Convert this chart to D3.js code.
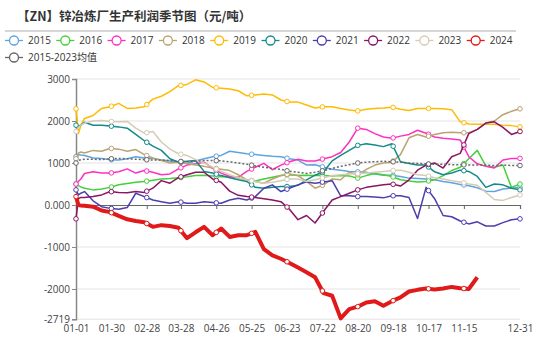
<!DOCTYPE html>
<html><head><meta charset="utf-8">
<script src="https://cdn.jsdelivr.net/npm/d3@7"></script>
<style>
html,body{margin:0;padding:0;background:#fff;}
svg text{font-family:"Open Sans","Noto Sans CJK SC",sans-serif;}
</style></head>
<body>
<svg id="chart" width="550" height="339"></svg>
<script>
// ---- data ----
const titleText = "【ZN】锌冶炼厂生产利润季节图（元/吨）";
const tickLabels = ["01-01","01-30","02-28","03-28","04-26","05-25","06-23","07-22","08-20","09-18","10-17","11-15","12-31"];
const tickDays = [0,29,58,86,115,144,173,202,231,260,289,318,364];
const yTicks = [3000,2000,1000,0,-1000,-2000,-2719];
const yTickLabels = ["3000","2000","1000","0.000","-1000","-2000","-2719"];
const days = [0,2,4,7,14,21,28,35,42,49,56,63,70,77,84,91,98,105,112,119,126,133,140,147,154,161,168,175,182,189,196,203,210,217,224,231,238,245,252,259,266,273,280,287,294,301,308,315,322,329,336,343,350,357,364];
const seriesNames = ["2015","2016","2017","2018","2019","2020","2021","2022","2023","2024","2015-2023均值"];
const seriesColors = ["#5fa3e0","#44d03a","#ff30c0","#bba371","#ffbb00","#138a8a","#4b3fae","#8a1466","#d6cbb5","#e01a1a","#666666"];

const v2015 = [1150,1200,1190,
 1180,1120,1110,1080,1070,1100,1150,1120,1110,1070,
 1050,1020,990,1050,1100,1150,1180,1280,1250,1220,
 1200,1180,1160,1150,1100,1070,950,960,900,850,
 830,800,790,780,740,710,710,680,640,630,
 620,600,560,530,490,460,410,330,320,380,
 400,420];
const v2016 = [500,460,430,
 400,360,380,420,480,510,540,560,590,620,
 630,650,670,700,710,690,670,680,640,600,
 570,620,660,700,720,700,710,700,700,690,
 700,690,640,700,750,720,680,600,570,550,
 560,600,700,820,900,1100,1300,930,900,950,
 420,500];
const v2017 = [500,560,620,
 750,790,760,760,790,860,760,820,780,720,
 740,860,950,980,1020,870,760,680,660,800,
 900,990,840,950,1030,1090,1050,1050,1100,1150,
 1250,1500,1830,1800,1700,1620,1590,1640,1680,1780,
 1710,1620,1590,1570,1550,1150,980,920,880,1070,
 1110,1110];
const v2018 = [1100,1240,1260,
 1240,1300,1280,1350,1330,1280,1320,1200,1120,1060,
 1000,1020,990,950,920,880,850,820,720,600,
 560,520,620,700,740,700,560,400,480,620,
 600,780,720,850,950,1000,1020,1200,1600,1680,
 1620,1680,1720,1730,1720,1720,1800,1950,2000,2150,
 2230,2290];
const v2019 = [2290,1700,1900,
 2060,2130,2300,2340,2420,2300,2310,2340,2520,2590,
 2700,2840,2870,2980,2930,2800,2780,2760,2720,2600,
 2620,2640,2620,2500,2450,2450,2380,2310,2340,2340,
 2300,2260,2240,2280,2300,2310,2330,2280,2250,2300,
 2300,2300,2290,2270,1980,1930,1920,1920,1920,1900,
 1890,1860];
const v2020 = [1900,1880,1900,
 1970,1900,1900,1880,1860,1830,1680,1530,1400,1300,
 1100,1020,1040,1060,800,760,700,650,600,560,
 420,400,420,440,440,470,600,710,790,1050,
 1180,1300,1420,1460,1430,1390,1460,1030,990,950,
 950,790,720,760,830,800,680,420,500,480,
 400,360];
const v2021 = [360,240,280,
 320,100,-40,-80,-100,-60,280,200,120,80,
 40,80,40,40,80,60,40,120,160,120,
 200,400,480,320,400,480,550,520,550,580,
 220,220,200,200,190,170,220,220,180,-320,
 420,150,-250,-280,-380,-450,-400,-500,-500,-420,
 -350,-330];
const v2022 = [-330,150,180,
 180,200,240,320,300,290,320,300,400,580,
 520,650,720,780,780,620,540,330,230,200,
 180,150,120,80,-100,-350,-250,-430,-150,120,
 200,280,360,420,450,480,500,450,600,830,
 950,1000,880,1150,1230,1700,1800,1950,1980,1850,
 1680,1750];
const v2023 = [1750,1850,1900,
 1950,2000,2010,1990,1980,1990,1830,1710,1750,1500,
 1330,1220,1180,1080,1000,900,800,720,650,600,
 560,520,540,580,620,620,560,600,650,700,
 720,740,750,760,780,800,820,830,780,720,
 700,650,620,580,550,500,470,300,130,110,
 180,240];
const v2024 = [200,0,-10,
 -20,-40,-130,-170,-260,-340,-380,-410,-520,-480,
 -500,-540,-790,-650,-520,-720,-560,-760,-720,-720,
 -640,-1050,-1200,-1280,-1380,-1490,-1600,-1720,-2100,-2160,
 -2700,-2480,-2420,-2320,-2290,-2400,-2290,-2200,-2060,-2020,
 -1990,-2010,-1990,-1950,-1980,-2000,-1720];
const vAvg = [1000,1060,1080,
 1090,1090,1080,1100,1110,1100,1090,1080,1070,1070,
 1060,1040,1030,1040,1060,1060,1050,1030,1000,970,
 930,900,870,850,800,780,750,780,820,870,
 920,960,1000,1020,1030,1040,1030,1020,1000,990,
 980,970,970,960,960,950,950,950,940,950,
 940,940];
const seriesValues = [v2015,v2016,v2017,v2018,v2019,v2020,v2021,v2022,v2023,v2024,vAvg];

// ---- layout ----
const svg = d3.select("#chart");
const x = d3.scaleLinear().domain([0,364]).range([76,520]);
const y = d3.scaleLinear().domain([-2719,3000]).range([319.2,79]);

// title
svg.append("text").attr("x",17).attr("y",21).text(titleText)
  .attr("font-size",12.5).attr("font-weight","bold").attr("fill","#333")
  .style("font-family","'Noto Sans CJK SC',sans-serif");
svg.append("line").attr("x1",5).attr("x2",516).attr("y1",31).attr("y2",31)
  .attr("stroke","#c8c8c8").attr("stroke-width",1.5);

// legend
const legend = svg.append("g");
seriesNames.forEach((name,i)=>{
  const row = i < 10 ? 0 : 1;
  const col = i < 10 ? i : 0;
  const lx = 5 + col*51.3, ly = row===0 ? 40.5 : 57.5;
  const g = legend.append("g");
  g.append("line").attr("x1",lx).attr("x2",lx+18).attr("y1",ly).attr("y2",ly)
    .attr("stroke",seriesColors[i]).attr("stroke-width",1.3);
  g.append("circle").attr("cx",lx+9).attr("cy",ly).attr("r",4.5)
    .attr("fill","#fff").attr("stroke",seriesColors[i]).attr("stroke-width",1.3);
  g.append("text").attr("x",lx+23).attr("y",ly+3.5).text(name)
    .attr("font-size",10).attr("fill","#333");
});

// gridlines
svg.append("g").selectAll("line").data(yTicks.filter(d=>d!==0)).join("line")
  .attr("x1",76).attr("x2",520).attr("y1",d=>y(d)).attr("y2",d=>y(d))
  .attr("stroke","#e3e3e3").attr("stroke-width",1);

// y axis
const yAxis = d3.axisLeft(y).tickValues(yTicks).tickSize(4)
  .tickFormat((d,i)=>yTickLabels[i]);
const gy = svg.append("g").attr("transform","translate(76,0)").call(yAxis);
gy.select(".domain").attr("stroke","#888").attr("stroke-width",1.5);
gy.selectAll(".tick line").attr("stroke","#888");
gy.selectAll(".tick text").attr("font-size",10).attr("fill","#444").attr("x",-6)
  .style("font-family","'Open Sans',sans-serif");

// x axis line at zero with ticks
const xAxisZero = d3.axisBottom(x).tickValues(tickDays).tickSize(4).tickFormat("");
const gx0 = svg.append("g").attr("transform",`translate(0,${y(0)})`).call(xAxisZero);
gx0.select(".domain").attr("stroke","#666").attr("stroke-width",1.2);
gx0.selectAll(".tick line").attr("stroke","#666");

// x labels at bottom
const xAxisLab = d3.axisBottom(x).tickValues(tickDays).tickSize(0)
  .tickFormat((d,i)=>tickLabels[i]);
const gx = svg.append("g").attr("transform",`translate(0,${y(-2719)})`).call(xAxisLab);
gx.select(".domain").remove();
gx.selectAll(".tick text").attr("font-size",10).attr("fill","#444").attr("y",5).attr("dy","0.8em")
  .style("font-family","'Open Sans',sans-serif");

// series
const line = d3.line().x(d=>x(d[0])).y(d=>y(d[1])).curve(d3.curveLinear);
function valueAt(vals, day){
  for(let k=0;k<vals.length-1;k++){
    if(days[k]<=day && day<=days[k+1]){
      const t=(day-days[k])/(days[k+1]-days[k]);
      return vals[k]+(vals[k+1]-vals[k])*t;
    }
  }
  return null;
}
const order = [0,1,2,3,4,5,6,7,8,10,9];
order.forEach(i=>{
  const vals = seriesValues[i];
  const pts = vals.map((v,k)=>[days[k],v]);
  const isRed = i===9, isAvg = i===10;
  svg.append("path").datum(pts).attr("d",line).attr("fill","none")
    .attr("stroke",seriesColors[i])
    .attr("stroke-width",isRed?4:1.5)
    .attr("stroke-dasharray",isAvg?"2,2":null)
    .attr("stroke-linejoin","round");
  const lastDay = days[vals.length-1];
  const sym = tickDays.filter(d=>d<=lastDay).map(d=>[d,valueAt(vals,d)]);
  svg.append("g").selectAll("circle").data(sym).join("circle")
    .attr("cx",d=>x(d[0])).attr("cy",d=>y(d[1])).attr("r",2.3)
    .attr("fill","#fff").attr("stroke",seriesColors[i]).attr("stroke-width",1);
});
</script>
</body></html>
